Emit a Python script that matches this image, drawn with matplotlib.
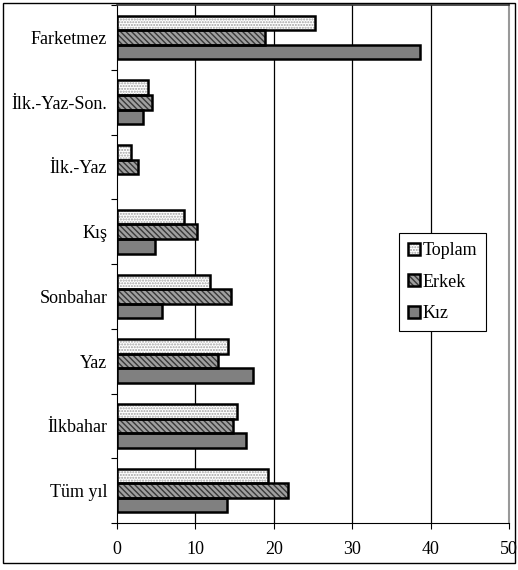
import numpy as np
import matplotlib.pyplot as plt
from matplotlib.patches import Patch, Rectangle
from matplotlib.legend_handler import HandlerTuple

plt.rcParams['font.family'] = ['Liberation Serif', 'DejaVu Serif']

# categories from bottom to top
categories = ['Tüm yıl', 'İlkbahar', 'Yaz', 'Sonbahar', 'Kış', 'İlk.-Yaz',
              'İlk.-Yaz-Son.', 'Farketmez']
toplam = [19.3, 15.3, 14.2, 11.8, 8.5, 1.8, 4.0, 25.2]
erkek = [21.8, 14.8, 12.9, 14.5, 10.2, 2.7, 4.5, 18.9]
kiz = [14.0, 16.5, 17.3, 5.7, 4.9, 0.0, 3.3, 38.7]
series_names = ['Toplam', 'Erkek', 'Kız']

fig = plt.figure(figsize=(5.18, 5.70), dpi=100)
ax = fig.add_axes([0.2259, 0.0825, 0.9826 - 0.2259, 0.991 - 0.0825])

y = np.arange(len(categories))
h = 0.225
styles = [
    dict(facecolor='white', hatch='......', hcol='#a0a0a0'),
    dict(facecolor='#a0a0a0', hatch='\\\\\\\\\\\\', hcol='#383838'),
    dict(facecolor='#808080', hatch=None, hcol='#808080'),
]
offsets = [h, 0, -h]
handles = []
for vals, st, off in zip([toplam, erkek, kiz], styles, offsets):
    vals = np.array(vals)
    keep = vals > 0
    ax.barh((y + off)[keep], vals[keep], height=h, color=st['facecolor'],
            hatch=st['hatch'], edgecolor=st['hcol'], linewidth=0, zorder=3)
    ax.barh((y + off)[keep], vals[keep], height=h, fill=False,
            edgecolor='black', linewidth=1.8, zorder=4)
    p1 = Patch(facecolor=st['facecolor'], hatch=st['hatch'],
               edgecolor=st['hcol'], linewidth=0)
    p2 = Patch(fill=False, edgecolor='black', linewidth=1.8)
    handles.append((p1, p2))

ax.set_xlim(0, 50)
ax.set_ylim(-0.5, len(categories) - 0.5)
ax.set_xticks([0, 10, 20, 30, 40, 50])
ax.tick_params(axis='x', direction='out', length=4, labelsize=13, pad=9)
ax.set_yticks(np.arange(-0.5, len(categories), 1.0))
ax.set_yticklabels([])
ax.set_yticks(y, minor=True)
ax.set_yticklabels(categories, minor=True, fontsize=13)
ax.tick_params(axis='y', which='major', direction='out', length=4)
ax.tick_params(axis='y', which='minor', length=0, pad=7)

for xv in [10, 20, 30, 40]:
    ax.axvline(xv, color='black', linewidth=0.9, zorder=1)

ax.spines['right'].set_color('#999999')
ax.spines['right'].set_linewidth(1.5)
ax.spines['top'].set_color('#333333')
ax.spines['top'].set_linewidth(1.2)

leg = ax.legend(handles, series_names, handler_map={tuple: HandlerTuple(ndivide=1)},
                loc='upper left', bbox_to_anchor=(0.770, 0.591),
                bbox_transform=fig.transFigure, borderaxespad=0,
                fontsize=13, fancybox=False, framealpha=1,
                handlelength=0.65, handleheight=0.65, handletextpad=0.15,
                labelspacing=0.8, borderpad=0.5)
leg.get_frame().set_edgecolor('black')
leg.get_frame().set_linewidth(0.8)

fig.add_artist(Rectangle((3 / 518, 7 / 570), 512 / 518, 560 / 570,
                         transform=fig.transFigure, fill=False,
                         edgecolor='black', linewidth=1.0))

fig.savefig('out.png', dpi=100)
